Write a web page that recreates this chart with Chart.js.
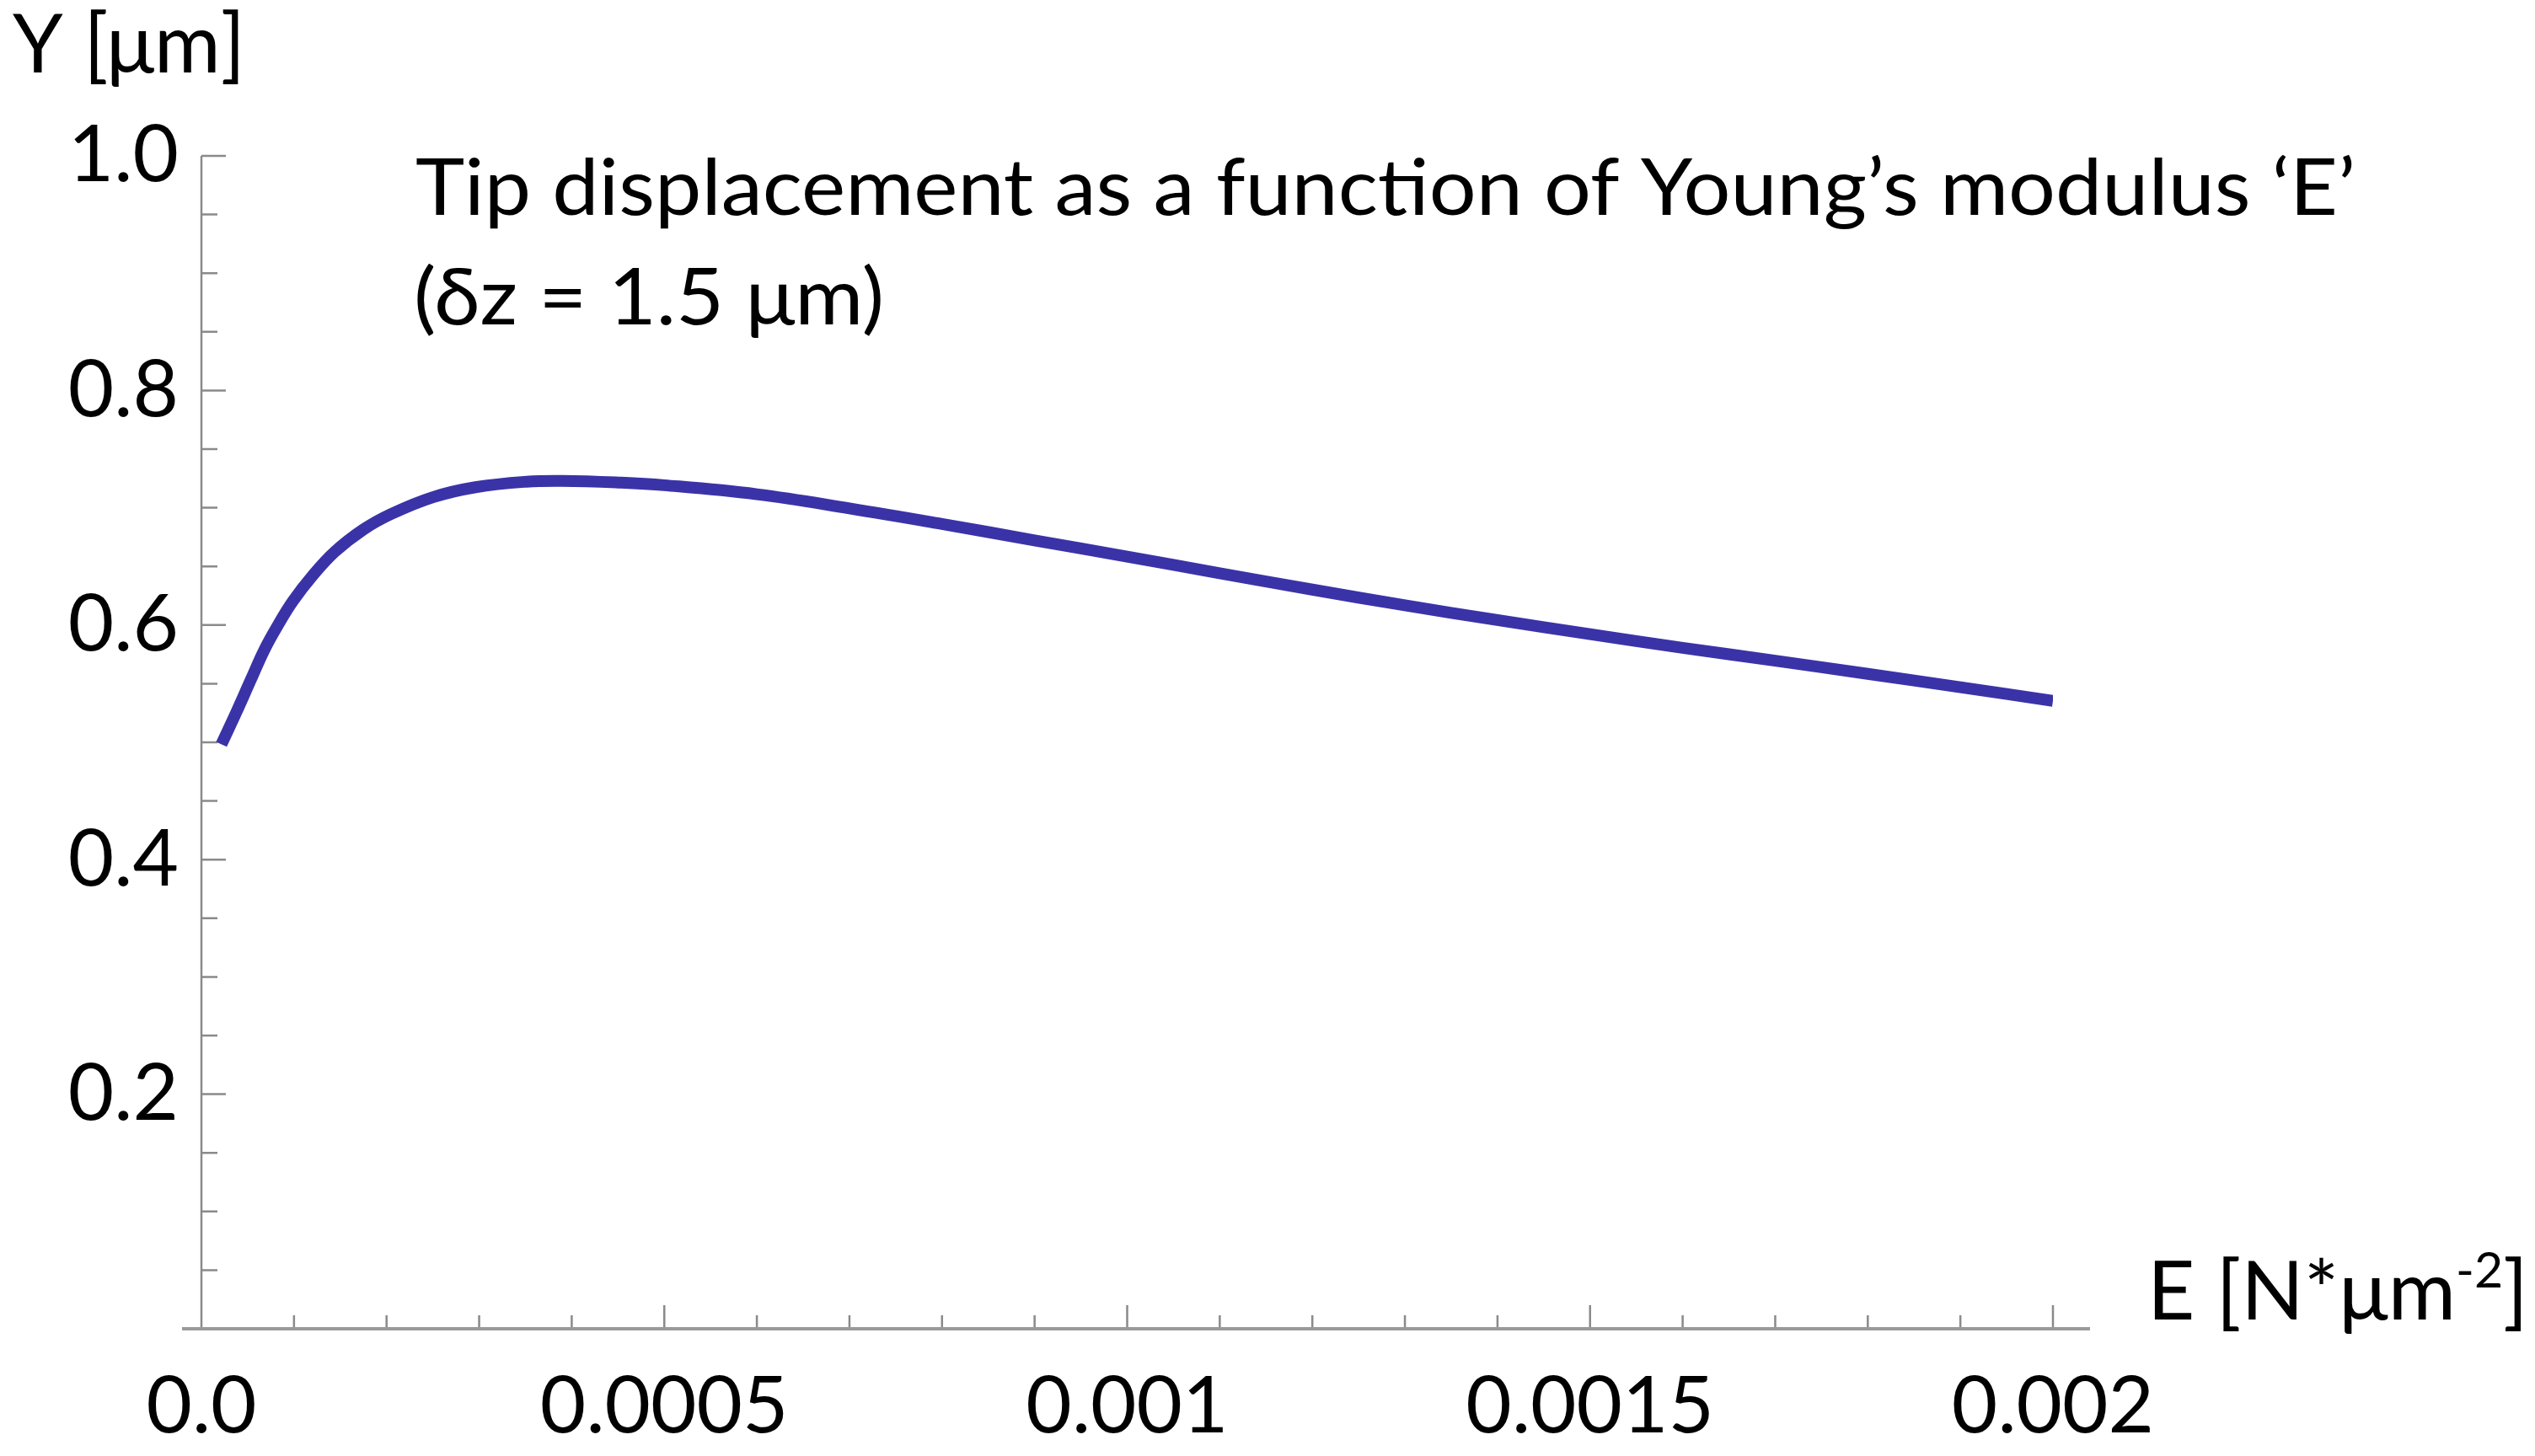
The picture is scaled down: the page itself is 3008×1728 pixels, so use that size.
<!DOCTYPE html>
<html>
<head>
<meta charset="utf-8">
<script src="https://cdn.jsdelivr.net/npm/chart.js@4.4.1/dist/chart.umd.min.js"></script>
<style>
html,body{margin:0;padding:0;background:#ffffff;}
canvas{display:block;}
</style>
</head>
<body>
<canvas id="c" width="3008" height="1728"></canvas>
<script>
// ---- data ----
const modulusE = [0.0000216, 0.0000382, 0.0000534, 0.0000685, 0.0000837, 0.0000989, 0.00012, 0.000144, 0.000175, 0.000205, 0.00025, 0.000296, 0.000351, 0.00039, 0.00045, 0.0005, 0.0006, 0.0007, 0.0008, 0.0009, 0.001, 0.0011, 0.0012, 0.0013, 0.0014, 0.0015, 0.0016, 0.0017, 0.0018, 0.0019, 0.002];
const tipDisplacement = [0.4983, 0.5265, 0.5534, 0.5797, 0.6013, 0.6205, 0.642, 0.6624, 0.6815, 0.6947, 0.709, 0.7175, 0.7222, 0.7229, 0.7215, 0.7192, 0.7115, 0.6995, 0.6862, 0.6722, 0.6583, 0.6442, 0.6302, 0.6168, 0.6042, 0.5922, 0.5806, 0.5696, 0.5584, 0.5470, 0.5354];

const xTickValues = [0, 0.0005, 0.001, 0.0015, 0.002];
const xTickLabels = ['0.0', '0.0005', '0.001', '0.0015', '0.002'];
const yTickValues = [0.2, 0.4, 0.6, 0.8, 1.0];
const yTickLabels = ['0.2', '0.4', '0.6', '0.8', '1.0'];

const titleLines = ['Tip displacement as a function of Young\u2019s modulus \u2018E\u2019', '(\u03B4z = 1.5 \u03BCm)'];
const yAxisTitle = 'Y [\u03BCm]';
const xAxisTitleParts = ['E [N*\u03BCm', '-2', ']'];

const FONT = 'Lato, "Open Sans", sans-serif';

function matchIndex(v, arr) {
  for (let i = 0; i < arr.length; i++) if (Math.abs(arr[i] - v) < 1e-9) return i;
  return -1;
}

function fitText(ctx, text, x, y, w, size) {
  ctx.save();
  ctx.font = size + 'px ' + FONT;
  ctx.textBaseline = 'alphabetic';
  ctx.textAlign = 'left';
  const m = ctx.measureText(text).width;
  ctx.translate(x, y);
  ctx.scale(w / m, 1);
  ctx.fillText(text, 0, 0);
  ctx.restore();
}

const decor = {
  id: 'decor',
  beforeDatasetsDraw(chart) {
    const {ctx, chartArea: a, scales: {x, y}} = chart;
    ctx.save();
    // y axis
    ctx.strokeStyle = '#8a8a8a';
    ctx.lineWidth = 2.5;
    ctx.beginPath();
    ctx.moveTo(a.left, y.getPixelForValue(1.0));
    ctx.lineTo(a.left, a.bottom);
    ctx.stroke();
    ctx.beginPath();
    y.ticks.forEach(t => {
      if (t.value <= 1e-9) return;
      const py = y.getPixelForValue(t.value);
      const len = matchIndex(t.value, yTickValues) >= 0 ? 29 : 19;
      ctx.moveTo(a.left, py);
      ctx.lineTo(a.left + len, py);
    });
    ctx.stroke();
    // x ticks
    ctx.beginPath();
    x.ticks.forEach(t => {
      if (t.value <= 1e-9) return;
      const px = x.getPixelForValue(t.value);
      const len = matchIndex(t.value, xTickValues) >= 0 ? 28 : 16;
      ctx.moveTo(px, a.bottom);
      ctx.lineTo(px, a.bottom - len);
    });
    ctx.stroke();
    // x axis
    ctx.strokeStyle = '#9a9a9a';
    ctx.lineWidth = 4;
    ctx.beginPath();
    ctx.moveTo(a.left - 23, a.bottom);
    ctx.lineTo(a.right + 44, a.bottom);
    ctx.stroke();
    ctx.restore();
  },
  afterDraw(chart) {
    const ctx = chart.ctx;
    ctx.save();
    ctx.fillStyle = '#000000';
    fitText(ctx, titleLines[0], 493, 255, 2302, 93);
    fitText(ctx, titleLines[1], 491, 385, 558, 93);
    fitText(ctx, yAxisTitle, 15, 86, 276, 96);
    // x axis title with superscript
    ctx.font = '96px ' + FONT;
    const w0 = ctx.measureText(xAxisTitleParts[0]).width;
    const w2 = ctx.measureText(xAxisTitleParts[2]).width;
    ctx.font = '58px ' + FONT;
    const w1 = ctx.measureText(xAxisTitleParts[1]).width;
    const total = w0 + w1 + w2;
    const sx = 452 / total;
    ctx.translate(2548, 1566);
    ctx.scale(sx, 1);
    ctx.textBaseline = 'alphabetic';
    ctx.font = '96px ' + FONT;
    ctx.fillText(xAxisTitleParts[0], 0, 0);
    ctx.font = '58px ' + FONT;
    ctx.fillText(xAxisTitleParts[1], w0, -38);
    ctx.font = '96px ' + FONT;
    ctx.fillText(xAxisTitleParts[2], w0 + w1, 0);
    ctx.restore();
  }
};

const points = modulusE.map((e, i) => ({x: e, y: tipDisplacement[i]}));

new Chart(document.getElementById('c'), {
  type: 'scatter',
  data: {
    datasets: [{
      data: points,
      showLine: true,
      borderColor: '#3a33a8',
      backgroundColor: '#3a33a8',
      borderWidth: 14,
      borderCapStyle: 'butt',
      borderJoinStyle: 'round',
      pointRadius: 0,
      tension: 0.4,
      fill: false
    }]
  },
  options: {
    responsive: false,
    devicePixelRatio: 1,
    animation: false,
    events: [],
    layout: {padding: {left: 0, right: 572, top: 185, bottom: 0}},
    plugins: {legend: {display: false}, tooltip: {enabled: false}, title: {display: false}},
    scales: {
      x: {
        type: 'linear',
        min: 0,
        max: 0.002,
        afterFit(s) { s.height = 1728 - 1577; },
        grid: {display: false, drawTicks: false},
        border: {display: false},
        ticks: {
          stepSize: 0.0001,
          autoSkip: false,
          maxRotation: 0,
          padding: 36,
          color: '#000000',
          font: {family: FONT, size: 94},
          callback(v) { const i = matchIndex(v, xTickValues); return i >= 0 ? xTickLabels[i] : ''; }
        }
      },
      y: {
        type: 'linear',
        min: 0,
        max: 1.0,
        afterFit(s) { s.width = 239; },
        grid: {display: false, drawTicks: false},
        border: {display: false},
        ticks: {
          stepSize: 0.05,
          autoSkip: false,
          padding: 27,
          color: '#000000',
          font: {family: FONT, size: 94},
          callback(v) { const i = matchIndex(v, yTickValues); return i >= 0 ? yTickLabels[i] : ''; }
        }
      }
    }
  },
  plugins: [decor]
});
</script>
</body>
</html>
